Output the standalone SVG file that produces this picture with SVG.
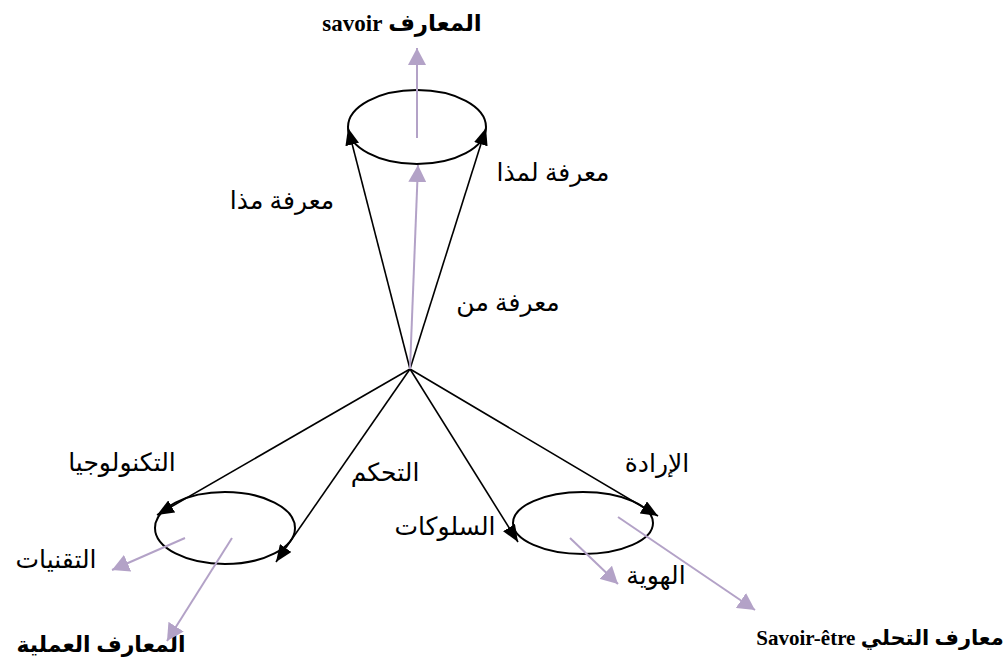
<svg xmlns="http://www.w3.org/2000/svg" width="1008" height="664" viewBox="0 0 1008 664">
<defs>
<style>
.bk{stroke:#000;stroke-width:1.6;fill:none}
.pu{stroke:#b3a2c7;stroke-width:2;fill:none}
.el{stroke:#000;stroke-width:2;fill:none}
.lbl{font-family:'Liberation Serif','DejaVu Sans',serif;font-size:25px;fill:#000;text-anchor:middle}
.ttl{font-family:'Liberation Serif','DejaVu Sans',serif;font-size:23px;font-weight:bold;fill:#000;text-anchor:middle}
</style>
<marker id="ab" markerUnits="userSpaceOnUse" markerWidth="18" markerHeight="14" refX="17" refY="7" orient="auto">
<path d="M0,0 L17,7 L0,14 z" fill="#000"/>
</marker>
<marker id="ap" markerUnits="userSpaceOnUse" markerWidth="18" markerHeight="18" refX="17" refY="9" orient="auto">
<path d="M0,0 L17,9 L0,18 z" fill="#b3a2c7"/>
</marker>
</defs>
<rect width="1008" height="664" fill="#fff"/>
<g id="top-node">
<ellipse class="el" cx="417" cy="127" rx="69" ry="37"/>
<text class="ttl" x="402" y="31" direction="rtl">المعارف savoir</text>
</g>
<g id="left-node">
<ellipse class="el" cx="225" cy="528" rx="70" ry="36"/>
<text class="ttl" x="101" y="652" direction="rtl" style="font-size:22px">المعارف العملية</text>
</g>
<g id="right-node">
<ellipse class="el" cx="583" cy="523" rx="70" ry="31"/>
<text class="ttl" x="880" y="645" direction="rtl" style="font-size:21px">معارف التحلي Savoir-être</text>
</g>
<g id="labels">
<text class="lbl" x="553" y="181" direction="rtl">معرفة لمذا</text>
<text class="lbl" x="282" y="209" direction="rtl">معرفة مذا</text>
<text class="lbl" x="508" y="311" direction="rtl">معرفة من</text>
<text class="lbl" x="122" y="471" direction="rtl">التكنولوجيا</text>
<text class="lbl" x="385" y="481" direction="rtl">التحكم</text>
<text class="lbl" x="445" y="535" direction="rtl">السلوكات</text>
<text class="lbl" x="657" y="472" direction="rtl">الإرادة</text>
<text class="lbl" x="656" y="584" direction="rtl">الهوية</text>
<text class="lbl" x="56" y="568" direction="rtl">التقنيات</text>
</g>
<g id="connectors">
<line class="bk" x1="410" y1="369" x2="348" y2="128" marker-end="url(#ab)"/>
<line class="bk" x1="410" y1="369" x2="486" y2="128" marker-end="url(#ab)"/>
<line class="bk" x1="410" y1="369" x2="157" y2="515" marker-end="url(#ab)"/>
<line class="bk" x1="410" y1="369" x2="276" y2="562" marker-end="url(#ab)"/>
<line class="bk" x1="410" y1="369" x2="518" y2="542" marker-end="url(#ab)"/>
<line class="bk" x1="410" y1="369" x2="658" y2="516" marker-end="url(#ab)"/>
<line class="pu" x1="410" y1="369" x2="418" y2="165" marker-end="url(#ap)"/>
<line class="pu" x1="417" y1="138" x2="417" y2="48" marker-end="url(#ap)"/>
<line class="pu" x1="185" y1="538" x2="112" y2="570" marker-end="url(#ap)"/>
<line class="pu" x1="232" y1="538" x2="167" y2="641" marker-end="url(#ap)"/>
<line class="pu" x1="570" y1="538" x2="618" y2="584" marker-end="url(#ap)"/>
<line class="pu" x1="618" y1="517" x2="755" y2="610" marker-end="url(#ap)"/>
</g>
</svg>
